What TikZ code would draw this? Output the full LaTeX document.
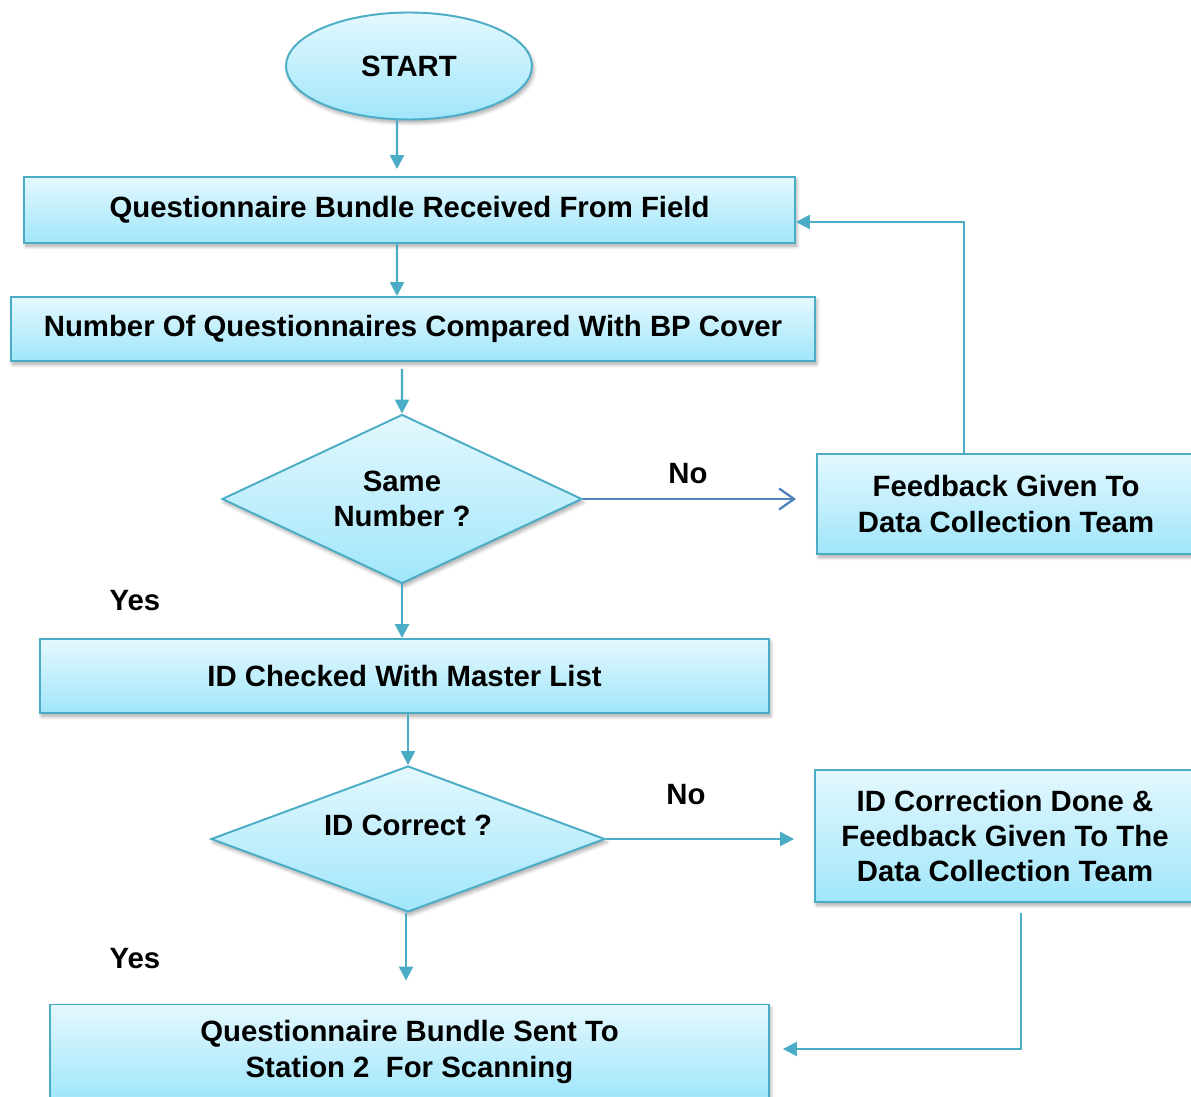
\documentclass[tikz,border=0pt]{standalone}
\usepackage{fontspec}
\setmainfont{Liberation Sans}
\usepackage{tikz}
\usetikzlibrary{shapes.geometric,arrows.meta,shadows.blur}

\definecolor{aqualine}{RGB}{75,172,198}
\definecolor{aquatop}{RGB}{228,248,254}
\definecolor{aquabottom}{RGB}{160,230,250}
\definecolor{noblue}{RGB}{79,129,189}

\begin{document}
\begin{tikzpicture}[x=0.02cm,y=-0.02cm,
  font=\fontsize{16.7}{20}\selectfont\bfseries,
  box/.style={draw=aqualine,line width=1.1pt,top color=aquatop,bottom color=aquabottom,
    blur shadow={shadow xshift=1pt,shadow yshift=-1.8pt,shadow blur steps=6,shadow opacity=35},
    align=center,inner sep=0pt},
  start/.style={box,ellipse},
  decision/.style={box,diamond,aspect=2.13},
  flow/.style={draw=aqualine,line width=1.3pt,-{Triangle[length=0.28cm,width=0.28cm]}}]
\useasboundingbox (0,0) rectangle (1191,1097);

% main column
\node[start,minimum width=4.92cm,minimum height=2.14cm] (start) at (409,66) {START};
\node[box,minimum width=15.42cm,minimum height=1.32cm] (received) at (409.5,210)
  {Questionnaire Bundle Received From Field};
\node[box,minimum width=16.08cm,minimum height=1.28cm] (compare) at (413,329)
  {Number Of Questionnaires Compared With BP Cover};
\node[decision,minimum width=7.2cm,minimum height=3.38cm] (same) at (402,499) {Same\\Number ?};
\node[box,minimum width=14.58cm,minimum height=1.48cm] (check) at (404.5,676)
  {ID Checked With Master List};
\node[decision,minimum width=7.88cm,minimum height=2.92cm] (correct) at (408,839) {};
\node (correcttext) at (408,825) {ID Correct ?};
\node[box,minimum width=14.38cm,minimum height=1.9cm] (final) at (409.5,1052)
  {Questionnaire Bundle Sent To\\Station 2~ For Scanning};

% side column
\node[box,minimum width=7.56cm,minimum height=2cm] (feedback) at (1006,504)
  {Feedback Given To\\Data Collection Team};
\node[box,minimum width=7.6cm,minimum height=2.64cm] (idfix) at (1005,836)
  {ID Correction Done \&\\Feedback Given To The\\Data Collection Team};

% answers
\node (no1) at (688,474) {No};
\node (no2) at (686,795) {No};
\node (yes1) at (135,601) {Yes};
\node (yes2) at (135,959) {Yes};

% arrows down the main column
\draw[flow,shorten >=0.14cm] ([xshift=-0.24cm]start.south) -- ([xshift=-0.25cm]received.north);
\draw[flow] ([xshift=-0.25cm]received.south) -- ([xshift=-0.32cm]compare.north);
\draw[flow,shorten <=0.14cm] ([xshift=-0.22cm]compare.south) -- (same.north);
\draw[flow] (same.south) -- (same.south |- check.north);
\draw[flow] (correct.north |- check.south) -- (correct.north);
\draw[flow,shorten >=0.46cm] ([xshift=-0.04cm]correct.south) -- ([xshift=-0.04cm]correct.south |- final.north);

% the two "No" branches
\draw[draw=noblue,line width=1.3pt,-{Straight Barb[length=0.3cm,width=0.42cm]},shorten >=0.4cm]
  (same.east) -- (same.east -| feedback.west);
\draw[flow,shorten >=0.4cm] (correct.east) -- (correct.east -| idfix.west);

% loops back
\draw[flow] ([xshift=-0.84cm]feedback.north) |- ([yshift=-0.24cm]received.east);
\draw[flow,shorten <=0.2cm,shorten >=0.26cm] ([xshift=0.32cm]idfix.south) |- ([yshift=0.06cm]final.east);
\end{tikzpicture}
\end{document}
